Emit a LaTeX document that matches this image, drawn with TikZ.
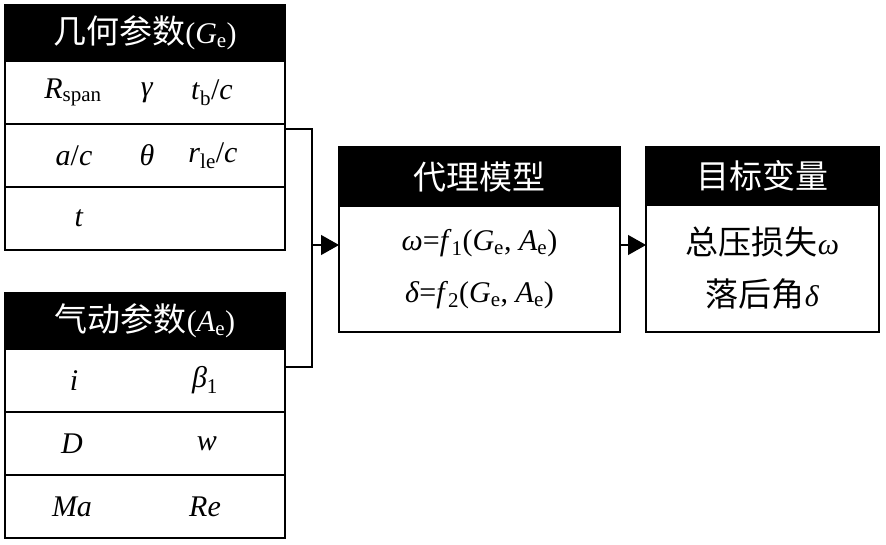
\documentclass[tikz,border=0pt]{standalone}
\usepackage{fontspec}
\setmainfont{Liberation Serif}
\newfontfamily\cjk[Scale=1.1]{Noto Sans CJK SC}
\usetikzlibrary{positioning,arrows.meta}
\newcommand{\ivar}[1]{\textit{#1}}
\newcommand{\lo}[1]{\textsubscript{#1}}

\begin{document}
\begin{tikzpicture}[x=1pt,y=-1pt]
\tikzset{node distance=0pt,
    every node/.style={font=\fontsize{30}{36}\selectfont},
    head/.style={rectangle, draw, fill=black, text=white, line width=1.2pt, outer sep=0pt},
    row/.style={rectangle, draw, line width=1.2pt, minimum width=280pt, minimum height=63pt, outer sep=0pt},
    body/.style={rectangle, draw, line width=1.2pt, outer sep=0pt, align=center, font=\fontsize{30}{52}\selectfont},
    arr/.style={-{Triangle[length=18pt,width=20pt]}, line width=1.2pt}
}
\useasboundingbox (0,0) rectangle (886,545);

  \node[head, minimum width=280pt, minimum height=56pt] (geo) at (145,33) {{\cjk 几何参数}(\ivar{G}\lo{e})};
  \node[row, below=of geo] (g1) {};
  \node[row, below=of g1] (g2) {};
  \node[row, below=of g2] (g3) {};
  \node (g11) at (73,92.5) {\ivar{R}\lo{span}};
  \node (g12) at (147,92.5) {\ivar{γ}};
  \node (g13) at (212,92.5) {\ivar{t}\lo{b}/\ivar{c}};
  \node (g21) at (74,155.5) {\ivar{a}/\ivar{c}};
  \node (g22) at (147,155.5) {\ivar{θ}};
  \node (g23) at (213,155.5) {\ivar{r}\lo{le}/\ivar{c}};
  \node (g31) at (79,218.5) {\ivar{t}};

  \node[head, minimum width=280pt, minimum height=56pt] (aero) at (145,321) {{\cjk 气动参数}(\ivar{A}\lo{e})};
  \node[row, below=of aero] (a1) {};
  \node[row, below=of a1] (a2) {};
  \node[row, below=of a2] (a3) {};
  \node (a11) at (74,380.5) {\ivar{i}};
  \node (a12) at (205,380.5) {\ivar{β}\lo{1}};
  \node (a21) at (72,443.5) {\ivar{D}};
  \node (a22) at (207,443.5) {\ivar{w}};
  \node (a31) at (72,506.5) {\ivar{Ma}};
  \node (a32) at (205,506.5) {\ivar{Re}};

  \node[head, minimum width=281pt, minimum height=59pt] (surr) at (479.5,176.5) {\cjk 代理模型};
  \node[body, minimum width=281pt, minimum height=126pt, below=of surr] (model)
    {\ivar{ω}=\ivar{f}\lo{1}(\ivar{G}\lo{e}, \ivar{A}\lo{e})\\ \ivar{δ}=\ivar{f}\lo{2}(\ivar{G}\lo{e}, \ivar{A}\lo{e})};

  \node[head, minimum width=233pt, minimum height=58pt] (tgt) at (762.5,176) {\cjk 目标变量};
  \node[body, minimum width=233pt, minimum height=127pt, below=of tgt] (out)
    {{\cjk 总压损失}\ivar{ω}\\ {\cjk 落后角}\ivar{δ}};

  \coordinate (gout) at (285,129);
  \coordinate (aout) at (285,367);
  \coordinate (j) at (312,245);
  \draw[line width=1.2pt] (gout) -| (j) |- (aout);
  \draw[arr] (j) -- (j -| model.west);
  \draw[arr] (j -| model.east) -- (j -| out.west);
\end{tikzpicture}
\end{document}
